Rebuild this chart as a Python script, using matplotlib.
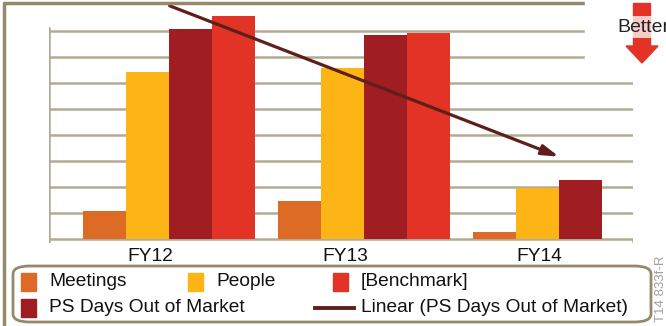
import numpy as np
import matplotlib
matplotlib.use("Agg")
import matplotlib.pyplot as plt
from matplotlib.patches import Rectangle, FancyBboxPatch, Polygon
from matplotlib.lines import Line2D

plt.rcParams['font.family'] = ['Liberation Sans', 'DejaVu Sans']

years = ["FY12", "FY13", "FY14"]
meetings = [1.07, 1.45, 0.28]
people = [6.43, 6.59, 1.97]
ps_days = [8.07, 7.86, 2.27]
benchmark = [8.59, 7.91, 0.0]

c_meet = "#DD6B25"
c_people = "#FDB515"
c_ps = "#A01E22"
c_bench = "#E33226"
c_trend = "#5E1F1A"
c_grid = "#B3AA93"
c_frame = "#948A6A"

W, H = 666, 326
fig = plt.figure(figsize=(W / 100, H / 100), dpi=100)

def fx(px):
    return px / W

def fy(py):
    return 1 - py / H

# plot area: x from 49 to 633 px, baseline at 239 px, 26 px per unit
ymin, ymax = -0.15, 9.19
ax = fig.add_axes([fx(49), fy(239 + 0.15 * 26), fx(633) - fx(49), 0.15 * 26 / H + 239 / H])
ax.set_xlim(-0.5, 2.5)
ax.set_ylim(ymin, ymax)
ax.axis("off")

x = np.arange(len(years))
bw = 0.221
offs = [-0.213, 0.008, 0.229, 0.450]

# gridlines and axes
for g in range(0, 9):
    ax.plot([-0.536, 2.5], [g, g], color=c_grid, lw=1.8, zorder=1, solid_capstyle="butt")
ax.plot([-0.5, -0.5], [-0.15, 8.1], color=c_grid, lw=1.8, zorder=1)
ax.plot([2.5, 2.5], [-0.15, 0], color=c_grid, lw=1.8, zorder=1)

ax.bar(x + offs[0], meetings, bw, color=c_meet, zorder=3)
ax.bar(x + offs[1], people, bw, color=c_people, zorder=3)
ax.bar(x + offs[2], ps_days, bw, color=c_ps, zorder=3)
ax.bar(x + offs[3], benchmark, bw, color=c_bench, zorder=3)

# linear trend of PS days
k, b = np.polyfit(x, ps_days, 1)
tx = x + 0.12
ty = k * x + b
ax.annotate("", xy=(tx[-1], ty[-1]), xytext=(tx[0], ty[0]),
            arrowprops=dict(arrowstyle="-|>,head_length=1.0,head_width=0.3",
                            color=c_trend, lw=2.3, shrinkA=0, shrinkB=0), zorder=5)

for i, lab in enumerate(years):
    ax.text(i + 0.02, -0.35, lab, ha="center", va="top", fontsize=13.8, color="#111111")

# white patch behind "Better" that hides grid ends
fig.patches.append(Rectangle((fx(585), fy(70)), fx(666) - fx(585), 70 / H,
                             transform=fig.transFigure, color="white", zorder=6))
# red arrow
shaft = Rectangle((fx(633), fy(47)), fx(650) - fx(633), 44 / H,
                  transform=fig.transFigure, color=c_bench, zorder=7)
fig.patches.append(shaft)
head = Polygon([(fx(626), fy(46)), (fx(658), fy(46)), (fx(642), fy(63))],
               closed=True, transform=fig.transFigure, color=c_bench, zorder=7)
fig.patches.append(head)
fig.text(fx(617), fy(27), "Better", fontsize=14, color="#222222", va="center", ha="left",
         zorder=8, bbox=dict(boxstyle="square,pad=0.15", fc="white", ec="none", alpha=0.75))

# outer frame (cropped)
fig.lines.append(Line2D([fx(4), fx(4), fx(666)], [fy(326), fy(3), fy(3)],
                        transform=fig.transFigure, color=c_frame, lw=2.5))

# legend box
fig.patches.append(FancyBboxPatch((fx(13), fy(322)), fx(651) - fx(13), (322 - 266) / H,
                                  boxstyle="round,pad=0,rounding_size=0.025",
                                  transform=fig.transFigure, fc="white", ec=c_frame, lw=2))

entries = [
    ("patch", c_meet, "Meetings", 21, 282),
    ("patch", c_people, "People", 188, 282),
    ("patch", c_bench, "[Benchmark]", 333, 282),
    ("patch", c_ps, "PS Days Out of Market", 21, 308),
    ("line", c_trend, "Linear (PS Days Out of Market)", 315, 308),
]
for kind, col, lab, px, py in entries:
    if kind == "patch":
        fig.patches.append(Rectangle((fx(px), fy(py + 9)), 15 / W, 18 / H,
                                     transform=fig.transFigure, color=col))
        tx0 = px + 28
    else:
        fig.lines.append(Line2D([fx(px), fx(px + 39)], [fy(py), fy(py)],
                                transform=fig.transFigure, color=col, lw=2.8))
        tx0 = px + 46
    fig.text(fx(tx0), fy(py), lab, fontsize=13.8, color="#111111", va="center", ha="left")

fig.text(fx(661), fy(289), "T14 833f-R", rotation=90, fontsize=9.5, color="#A0A0A0",
         va="center", ha="center")

fig.savefig("out.png", dpi=100)
